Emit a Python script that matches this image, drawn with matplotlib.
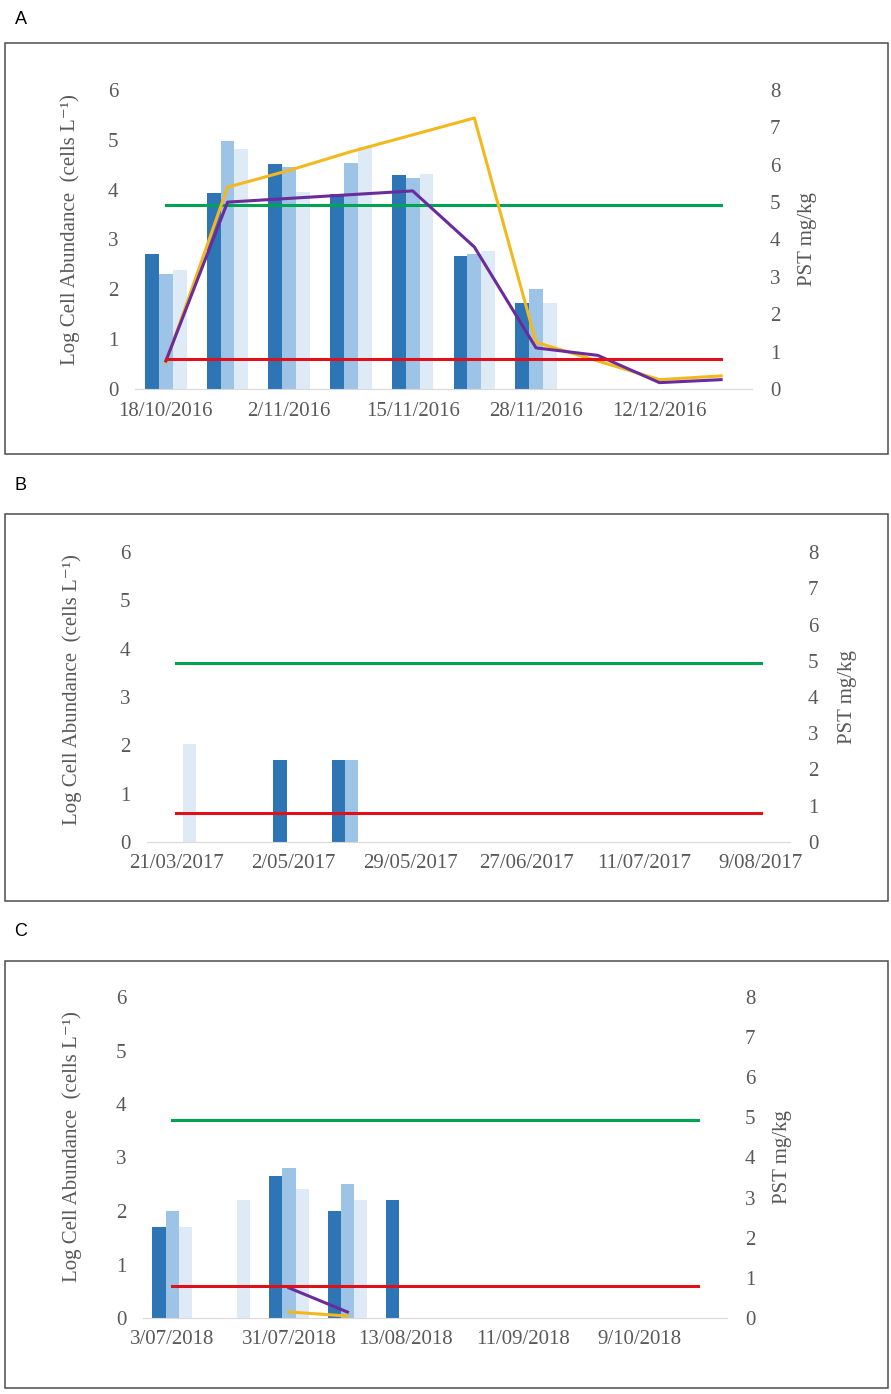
import numpy as np
import matplotlib
matplotlib.use("Agg")
import matplotlib.pyplot as plt
from matplotlib.patches import Rectangle

plt.rcParams['font.family'] = ['Liberation Serif', 'DejaVu Serif']

# ---- data ----
# Panel A (2016)
labels_a = ["18/10/2016", "", "2/11/2016", "", "15/11/2016", "", "28/11/2016", "", "12/12/2016", ""]
dark_a = [2.70, 3.93, 4.52, 3.92, 4.30, 2.66, 1.72, 0, 0, 0]
mid_a = [2.30, 4.97, 4.45, 4.54, 4.24, 2.71, 2.00, 0, 0, 0]
light_a = [2.38, 4.82, 3.95, 4.85, 4.32, 2.76, 1.72, 0, 0, 0]
yellow_a = [0.70, 5.40, 5.85, 6.35, 6.80, 7.25, 1.25, 0.75, 0.25, 0.35]
purple_a = [0.75, 5.00, 5.10, 5.20, 5.30, 3.80, 1.10, 0.90, 0.17, 0.25]

# Panel B (2017)
labels_b = ["21/03/2017", "", "2/05/2017", "", "29/05/2017", "", "27/06/2017", "",
            "11/07/2017", "", "9/08/2017"]
dark_b = [0, 0, 1.70, 1.70, 0, 0, 0, 0, 0, 0, 0]
mid_b = [0, 0, 0, 1.70, 0, 0, 0, 0, 0, 0, 0]
light_b = [2.02, 0, 0, 0, 0, 0, 0, 0, 0, 0, 0]
yellow_b = [None] * 11
purple_b = [None] * 11

# Panel C (2018)
labels_c = ["3/07/2018", "", "31/07/2018", "", "13/08/2018", "", "11/09/2018", "", "9/10/2018", ""]
dark_c = [1.70, 0, 2.65, 2.00, 2.20, 0, 0, 0, 0, 0]
mid_c = [2.00, 0, 2.80, 2.50, 0, 0, 0, 0, 0, 0]
light_c = [1.70, 2.20, 2.42, 2.20, 0, 0, 0, 0, 0, 0]
yellow_c = [None, None, 0.15, 0.05, None, None, None, None, None, None]
purple_c = [None, None, 0.75, 0.15, None, None, None, None, None, None]

cell_limit = np.log10(5000)   # left axis, green
pst_limit = 0.8               # right axis, red

c_dark, c_mid, c_light = "#2E75B6", "#9DC3E6", "#DEEBF7"
c_yellow, c_purple = "#F2B81E", "#6A2C9A"
c_green, c_red = "#00A352", "#E0101A"
grey = "#595959"

W, H = 891, 1394
fig = plt.figure(figsize=(W / 100, H / 100), dpi=100)


def px_rect(x0, y0, x1, y1):
    return [x0 / W, 1 - y1 / H, (x1 - x0) / W, (y1 - y0) / H]


def panel(rect, labels, dark, mid, light, yellow, purple, lab_x, rlab_x, lab_y):
    ax = fig.add_axes(rect)
    n = len(labels)
    x = np.arange(n)
    bw = 0.225
    ax.bar(x - bw, dark, bw, color=c_dark, zorder=2)
    ax.bar(x, mid, bw, color=c_mid, zorder=2)
    ax.bar(x + bw, light, bw, color=c_light, zorder=2)
    ax.set_xlim(-0.5, n - 0.5)
    ax.set_ylim(0, 6)
    ax.set_yticks(range(7))
    ax.set_xticks(x)
    ax.set_xticklabels(labels)
    ax.plot([0, n - 1], [cell_limit] * 2, color=c_green, lw=2.2, zorder=3)
    for s in ["top", "right", "left"]:
        ax.spines[s].set_visible(False)
    ax.spines["bottom"].set_color("#D9D9D9")
    ax.tick_params(axis="both", length=0, colors=grey, labelsize=15)
    ax.tick_params(axis="x", pad=9)
    ax.tick_params(axis="y", pad=12)
    ax.set_ylabel("Log Cell Abundance  (cells L\u207b\u00b9)", color=grey, fontsize=15)
    ax.yaxis.set_label_coords(lab_x, lab_y)

    ax2 = ax.twinx()
    ax2.set_ylim(0, 8)
    ax2.set_yticks(range(9))
    y_vals = np.array(yellow, dtype=float)
    p_vals = np.array(purple, dtype=float)
    ax2.plot(x, y_vals, color=c_yellow, lw=2.2, zorder=4)
    ax2.plot(x, p_vals, color=c_purple, lw=2.2, zorder=4)
    ax2.plot([0, n - 1], [pst_limit] * 2, color=c_red, lw=2.2, zorder=4)
    for s in ax2.spines.values():
        s.set_visible(False)
    ax2.tick_params(axis="y", length=0, colors=grey, labelsize=15, pad=13)
    ax2.set_ylabel("PST mg/kg", color=grey, fontsize=15, rotation=90)
    ax2.yaxis.set_label_coords(rlab_x, 0.5)
    return ax


panel(px_rect(135, 90, 752, 389), labels_a, dark_a, mid_a, light_a, yellow_a, purple_a,
      -0.089, 1.075, 0.532)
panel(px_rect(147, 552, 790, 842), labels_b, dark_b, mid_b, light_b, yellow_b, purple_b,
      -0.101, 1.075, 0.527)
panel(px_rect(143, 997, 727, 1318), labels_c, dark_c, mid_c, light_c, yellow_c, purple_c,
      -0.104, 1.079, 0.533)

# frames and panel letters
for (y0, y1), letter, ly in [((43, 454), "A", 19), ((514, 901), "B", 485), ((961, 1388), "C", 932)]:
    fig.patches.append(Rectangle((5 / W, 1 - y1 / H), 883 / W, (y1 - y0) / H,
                                 transform=fig.transFigure, fill=False,
                                 edgecolor="#4D4D4D", lw=1.1))
    fig.text(21 / W, 1 - ly / H, letter, family="Liberation Sans", fontsize=13,
             ha="center", va="center", color="black")

fig.savefig("out.png", dpi=100)
